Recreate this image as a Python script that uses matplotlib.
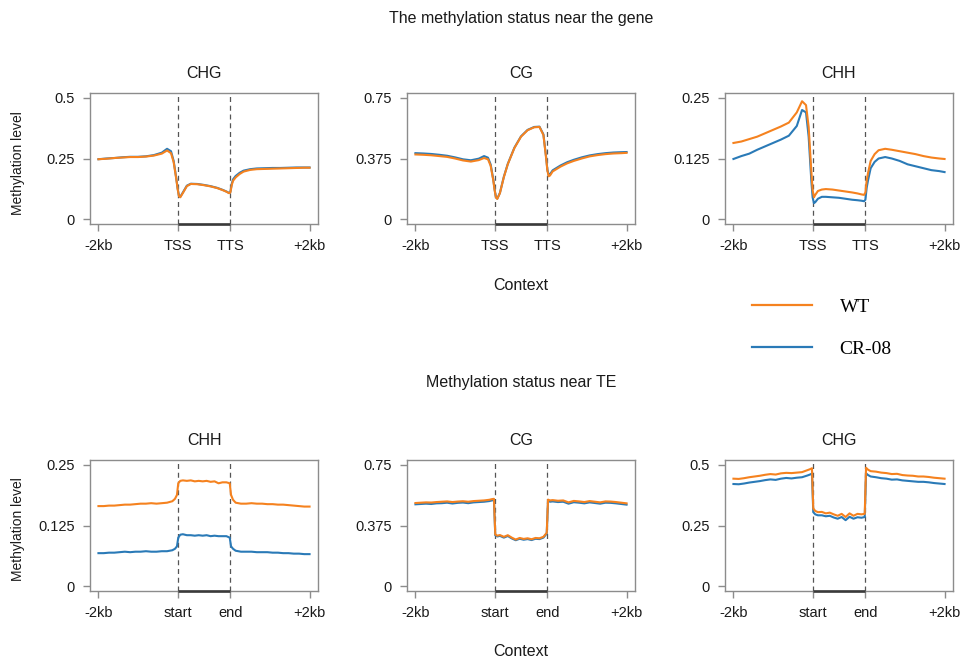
import matplotlib
matplotlib.use('Agg')
import matplotlib.pyplot as plt
from matplotlib.lines import Line2D

plt.rcParams['font.family'] = ['Liberation Sans', 'DejaVu Sans']

# positions along the metaplot: -2kb=0, TSS/start=60, TTS/end=100, +2kb=160
gene_x = [0, 6, 12, 18, 24, 30, 36, 42, 48, 52, 55, 57, 59, 60, 61, 62, 64, 67, 70, 75,
          80, 85, 90, 94, 97, 99, 100, 101, 102, 104, 107, 110, 115, 120, 126, 132, 138,
          144, 150, 156, 160]
te_x = [0, 4, 8, 12, 16, 20, 24, 28, 32, 36, 40, 44, 48, 52, 56, 58, 59.5,
        60.5, 62, 64, 67, 70, 73, 76, 79, 82, 85, 88, 91, 94, 97, 99.5,
        100.5, 102, 104, 108, 112, 116, 120, 124, 128, 132, 136, 140, 144, 148, 152, 156, 160]

gene_ticks = ['-2kb', 'TSS', 'TTS', '+2kb']
te_ticks = ['-2kb', 'start', 'end', '+2kb']

# gene, CHG
chg_gene_wt = [0.247, 0.249, 0.252, 0.254, 0.256, 0.256, 0.258, 0.262, 0.270, 0.283, 0.272,
               0.235, 0.165, 0.125, 0.095, 0.090, 0.108, 0.136, 0.145, 0.144, 0.140, 0.135,
               0.128, 0.120, 0.113, 0.107, 0.110, 0.140, 0.158, 0.172, 0.186, 0.196, 0.203,
               0.206, 0.207, 0.208, 0.209, 0.210, 0.211, 0.212, 0.212]
chg_gene_cr = [0.247, 0.250, 0.252, 0.255, 0.257, 0.257, 0.259, 0.264, 0.274, 0.290, 0.280,
               0.240, 0.168, 0.127, 0.097, 0.092, 0.110, 0.138, 0.146, 0.145, 0.141, 0.136,
               0.129, 0.121, 0.114, 0.108, 0.112, 0.145, 0.164, 0.178, 0.191, 0.200, 0.206,
               0.209, 0.210, 0.211, 0.211, 0.212, 0.213, 0.213, 0.213]

# gene, CG
cg_gene_wt = [0.400, 0.398, 0.395, 0.390, 0.385, 0.375, 0.363, 0.356, 0.365, 0.378, 0.370,
              0.330, 0.240, 0.180, 0.135, 0.125, 0.160, 0.260, 0.340, 0.440, 0.510, 0.550,
              0.568, 0.570, 0.520, 0.380, 0.300, 0.265, 0.270, 0.295, 0.310, 0.325, 0.345,
              0.360, 0.375, 0.388, 0.396, 0.402, 0.406, 0.408, 0.410]
cg_gene_cr = [0.408, 0.406, 0.403, 0.398, 0.392, 0.382, 0.370, 0.364, 0.374, 0.390, 0.380,
              0.338, 0.245, 0.183, 0.137, 0.127, 0.162, 0.262, 0.342, 0.442, 0.512, 0.552,
              0.570, 0.572, 0.524, 0.386, 0.306, 0.272, 0.278, 0.302, 0.317, 0.332, 0.352,
              0.367, 0.382, 0.394, 0.402, 0.408, 0.412, 0.414, 0.415]

# gene, CHH
chh_gene_wt = [0.157, 0.160, 0.165, 0.170, 0.177, 0.184, 0.191, 0.199, 0.220, 0.243, 0.235,
               0.190, 0.100, 0.060, 0.045, 0.050, 0.058, 0.061, 0.062, 0.061, 0.059, 0.057,
               0.055, 0.053, 0.051, 0.050, 0.055, 0.080, 0.095, 0.120, 0.134, 0.142, 0.145,
               0.143, 0.140, 0.137, 0.134, 0.130, 0.127, 0.125, 0.124]
chh_gene_cr = [0.124, 0.130, 0.135, 0.143, 0.150, 0.157, 0.164, 0.172, 0.192, 0.225, 0.220,
               0.170, 0.080, 0.045, 0.033, 0.035, 0.042, 0.046, 0.046, 0.045, 0.044, 0.042,
               0.040, 0.039, 0.038, 0.037, 0.040, 0.065, 0.080, 0.105, 0.118, 0.125, 0.128,
               0.125, 0.120, 0.113, 0.109, 0.105, 0.101, 0.099, 0.097]

# TE, CHH
chh_te_wt = [0.165, 0.165, 0.166, 0.166, 0.167, 0.168, 0.168, 0.169, 0.170, 0.170, 0.171, 0.170,
             0.171, 0.172, 0.175, 0.180, 0.188,
             0.212, 0.217, 0.218, 0.217, 0.218, 0.216, 0.217, 0.216, 0.217, 0.215, 0.216, 0.212,
             0.214, 0.214, 0.212,
             0.188, 0.178, 0.172, 0.170, 0.170, 0.171, 0.170, 0.170, 0.169, 0.169, 0.168, 0.168,
             0.167, 0.166, 0.165, 0.164, 0.164]
chh_te_cr = [0.068, 0.068, 0.069, 0.069, 0.070, 0.071, 0.070, 0.071, 0.071, 0.072, 0.071, 0.071,
             0.072, 0.072, 0.074, 0.077, 0.082,
             0.100, 0.106, 0.107, 0.105, 0.105, 0.104, 0.105, 0.104, 0.105, 0.103, 0.104, 0.103,
             0.103, 0.103, 0.100,
             0.082, 0.077, 0.073, 0.071, 0.071, 0.071, 0.070, 0.070, 0.070, 0.069, 0.069, 0.068,
             0.068, 0.067, 0.067, 0.066, 0.066]

# TE, CG
cg_te_wt = [0.514, 0.516, 0.518, 0.517, 0.520, 0.522, 0.524, 0.520, 0.523, 0.525, 0.522, 0.526,
            0.528, 0.530, 0.534, 0.538, 0.540,
            0.320, 0.312, 0.316, 0.305, 0.315, 0.300, 0.288, 0.298, 0.292, 0.296, 0.290, 0.298,
            0.296, 0.305, 0.330,
            0.535, 0.530, 0.532, 0.528, 0.530, 0.518, 0.527, 0.524, 0.520, 0.526, 0.522, 0.518,
            0.524, 0.523, 0.520, 0.516, 0.512]
cg_te_cr = [0.506, 0.508, 0.510, 0.508, 0.512, 0.513, 0.516, 0.511, 0.515, 0.517, 0.513, 0.518,
            0.520, 0.522, 0.526, 0.530, 0.533,
            0.315, 0.307, 0.311, 0.300, 0.310, 0.295, 0.284, 0.293, 0.287, 0.291, 0.285, 0.293,
            0.291, 0.300, 0.325,
            0.528, 0.522, 0.524, 0.520, 0.522, 0.510, 0.519, 0.516, 0.512, 0.518, 0.514, 0.510,
            0.516, 0.515, 0.512, 0.508, 0.504]

# TE, CHG
chg_te_wt = [0.443, 0.442, 0.445, 0.449, 0.452, 0.455, 0.459, 0.462, 0.460, 0.465, 0.467, 0.466,
             0.468, 0.470, 0.478, 0.482, 0.486,
             0.320, 0.310, 0.305, 0.306, 0.300, 0.303, 0.296, 0.290, 0.298, 0.285, 0.300, 0.290,
             0.298, 0.296, 0.298,
             0.488, 0.480, 0.474, 0.472, 0.468, 0.466, 0.462, 0.463, 0.458, 0.456, 0.455, 0.452,
             0.452, 0.450, 0.447, 0.445, 0.443]
chg_te_cr = [0.421, 0.420, 0.423, 0.427, 0.430, 0.433, 0.437, 0.440, 0.438, 0.443, 0.446, 0.444,
             0.447, 0.449, 0.456, 0.460, 0.464,
             0.305, 0.296, 0.292, 0.292, 0.288, 0.290, 0.283, 0.278, 0.285, 0.272, 0.286, 0.278,
             0.284, 0.282, 0.285,
             0.465, 0.458, 0.452, 0.449, 0.445, 0.443, 0.439, 0.440, 0.436, 0.434, 0.432, 0.430,
             0.430, 0.428, 0.425, 0.423, 0.421]

wt_color = '#f5821f'
cr_color = '#2a7ab7'
box_color = '#8c8c8c'


def draw_panel(ax, x, wt, cr, title, yticks, ylabels, xlabels):
    ax.plot(x, cr, color=cr_color, lw=1.5, zorder=3)
    ax.plot(x, wt, color=wt_color, lw=1.5, zorder=4)

    # R-like 4% padding on both axes
    ax.set_xlim(-160 * 0.04, 160 * 1.04)
    ytop = yticks[-1]
    ax.set_ylim(-ytop * 0.04, ytop * 1.04)

    ax.axvline(60, color='#555555', lw=0.9, ls=(0, (4, 3)), zorder=2)
    ax.axvline(100, color='#555555', lw=0.9, ls=(0, (4, 3)), zorder=2)

    # dark bar marking the feature body on the x axis
    ax.plot([60, 100], [-ytop * 0.04, -ytop * 0.04], color='#3a3a3a', lw=1.9,
            solid_capstyle='butt', clip_on=False, zorder=5)

    ax.set_xticks([0, 60, 100, 160])
    ax.set_xticklabels(xlabels)
    ax.set_yticks(yticks)
    ax.set_yticklabels(ylabels)
    ax.tick_params(direction='out', length=5, width=1, color=box_color,
                   labelsize=10.5, labelcolor='#1a1a1a', pad=6)
    for s in ax.spines.values():
        s.set_color(box_color)
        s.set_linewidth(1)
    ax.set_title(title, fontsize=11.5, pad=11, color='#1a1a1a')


fig = plt.figure(figsize=(9.62, 6.64), dpi=100)

lefts = [90 / 962, 407 / 962, 725 / 962]
w = 228 / 962
h = 131 / 664
top_row = 1 - 224 / 664
bot_row = 1 - 591 / 664

ax1 = fig.add_axes([lefts[0], top_row, w, h])
ax2 = fig.add_axes([lefts[1], top_row, w, h])
ax3 = fig.add_axes([lefts[2], top_row, w, h])
ax4 = fig.add_axes([lefts[0], bot_row, w, h])
ax5 = fig.add_axes([lefts[1], bot_row, w, h])
ax6 = fig.add_axes([lefts[2], bot_row, w, h])

draw_panel(ax1, gene_x, chg_gene_wt, chg_gene_cr, 'CHG', [0, 0.25, 0.5], ['0', '0.25', '0.5'], gene_ticks)
draw_panel(ax2, gene_x, cg_gene_wt, cg_gene_cr, 'CG', [0, 0.375, 0.75], ['0', '0.375', '0.75'], gene_ticks)
draw_panel(ax3, gene_x, chh_gene_wt, chh_gene_cr, 'CHH', [0, 0.125, 0.25], ['0', '0.125', '0.25'], gene_ticks)
draw_panel(ax4, te_x, chh_te_wt, chh_te_cr, 'CHH', [0, 0.125, 0.25], ['0', '0.125', '0.25'], te_ticks)
draw_panel(ax5, te_x, cg_te_wt, cg_te_cr, 'CG', [0, 0.375, 0.75], ['0', '0.375', '0.75'], te_ticks)
draw_panel(ax6, te_x, chg_te_wt, chg_te_cr, 'CHG', [0, 0.25, 0.5], ['0', '0.25', '0.5'], te_ticks)

fig.text(521 / 962, 1 - 18 / 664, 'The methylation status near the gene', ha='center', va='center',
         fontsize=11.5, color='#1a1a1a')
fig.text(521 / 962, 1 - 383 / 664, 'Methylation status near TE', ha='center', va='center',
         fontsize=11.5, color='#1a1a1a')
fig.text(521 / 962, 1 - 286 / 664, 'Context', ha='center', va='center', fontsize=11.5, color='#1a1a1a')
fig.text(521 / 962, 1 - 651 / 664, 'Context', ha='center', va='center', fontsize=11.5, color='#1a1a1a')
fig.text(18 / 962, 1 - 163 / 664, 'Methylation level', rotation=90, ha='center', va='center',
         fontsize=10, color='#1a1a1a')
fig.text(18 / 962, 1 - 529 / 664, 'Methylation level', rotation=90, ha='center', va='center',
         fontsize=10, color='#1a1a1a')

handles = [Line2D([], [], color=wt_color, lw=1.6), Line2D([], [], color=cr_color, lw=1.6)]
fig.legend(handles, ['WT', 'CR-08'], loc='center', bbox_to_anchor=(822 / 962, 1 - 328 / 664),
           frameon=False, prop={'family': 'Liberation Serif', 'size': 14},
           handlelength=3.1, handletextpad=1.4, labelspacing=1.25)

fig.savefig('out.png', dpi=100)
